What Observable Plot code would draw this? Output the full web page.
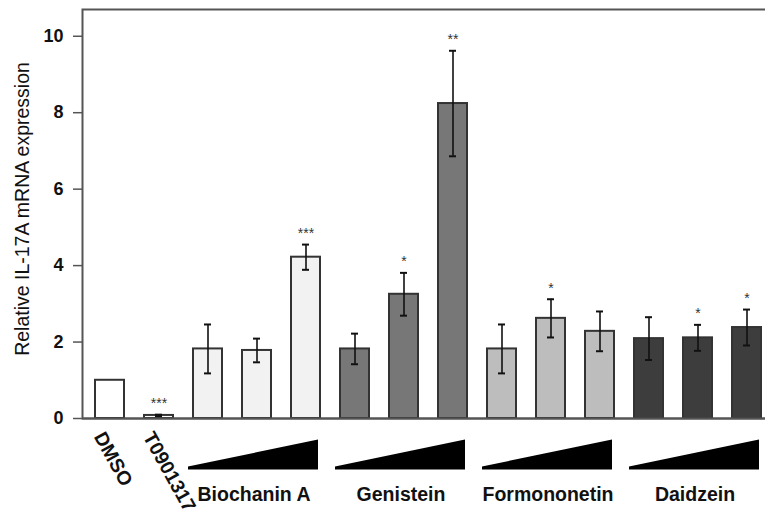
<!DOCTYPE html>
<html>
<head>
<meta charset="utf-8">
<script src="https://cdn.jsdelivr.net/npm/d3@7"></script>
<script src="https://cdn.jsdelivr.net/npm/@observablehq/plot@0.6"></script>
<style>
  html, body { margin: 0; padding: 0; background: #fff; overflow: hidden; }
  #chart { width: 765px; height: 512px; overflow: hidden; }
</style>
</head>
<body>
<div id="chart"></div>
<script>
// ---- data ----
const ids       = ["DMSO", "T0901317", "BA1", "BA2", "BA3", "GE1", "GE2", "GE3", "FO1", "FO2", "FO3", "DA1", "DA2", "DA3"];
const groups    = ["DMSO", "T0901317", "Biochanin A", "Biochanin A", "Biochanin A", "Genistein", "Genistein", "Genistein",
                   "Formononetin", "Formononetin", "Formononetin", "Daidzein", "Daidzein", "Daidzein"];
const means     = [1.00, 0.08, 1.82, 1.78, 4.22, 1.82, 3.25, 8.24, 1.82, 2.62, 2.28, 2.09, 2.11, 2.38];
const errors    = [0.00, 0.02, 0.64, 0.31, 0.33, 0.40, 0.56, 1.38, 0.64, 0.50, 0.52, 0.56, 0.34, 0.47];
const stars     = ["", "***", "", "", "***", "", "*", "**", "", "*", "", "", "*", "*"];
const controls  = ["DMSO", "T0901317"];
const compounds = ["Biochanin A", "Genistein", "Formononetin", "Daidzein"];
const yTicks    = [0, 2, 4, 6, 8, 10];
const yLabel    = "Relative IL-17A mRNA expression";

// colours per group
const groupFill = {
  "DMSO": "#ffffff", "T0901317": "#ffffff",
  "Biochanin A": "#f2f2f2", "Genistein": "#777777",
  "Formononetin": "#bdbdbd", "Daidzein": "#3d3d3d"
};

const table = ids.map((id, i) => ({id, group: groups[i], mean: means[i], err: errors[i], star: stars[i], fill: groupFill[groups[i]]}));
const withErr = table.filter(d => d.err > 0);
const withStar = table.filter(d => d.star);
const controlRows = table.filter(d => controls.includes(d.id));
const compoundRows = compounds.map(c => {
  const rows = table.filter(d => d.group === c);
  return {name: c, first: rows[0].id, mid: rows[1].id, last: rows[rows.length - 1].id};
});

const font = "Liberation Sans, Arial, Helvetica, sans-serif";

// dose wedges drawn under each compound, positioned by the x scale
function wedges(index, scales, values, dimensions) {
  const x = scales.x, bw = x.bandwidth();
  const base = dimensions.height - dimensions.marginBottom;
  const g = d3.create("svg:g");
  for (const c of compoundRows) {
    const x0 = x(c.first) - 5, x1 = x(c.last) + bw - 2;
    const yb = base + 51.5, yt = base + 21.5;
    g.append("polygon")
      .attr("points", `${x0},${yb} ${x0},${yb - 3} ${x1},${yt} ${x1},${yb}`)
      .attr("fill", "#000");
  }
  return g.node();
}

const chart = Plot.plot({
  width: 765,
  height: 512,
  marginLeft: 82,
  marginRight: -6,
  marginTop: 9,
  marginBottom: 94,
  style: {fontFamily: font, background: "#fff", color: "#111"},
  x: {domain: ids, range: [80, 777], paddingInner: 0.4, paddingOuter: 0.2, axis: null},
  y: {domain: [0, 10.7], axis: null},
  color: {type: "identity"},
  marks: [
    Plot.frame({stroke: "#555", strokeWidth: 2}),
    Plot.axisY({ticks: yTicks, tickSize: 9, tickPadding: 10, fontSize: 18, fontWeight: "bold", label: null, stroke: "#555", strokeWidth: 1.5}),
    Plot.barY(table, {x: "id", y: "mean", fill: "fill", stroke: "#333", strokeWidth: 2}),
    Plot.ruleX(withErr, {x: "id", y1: d => d.mean - d.err, y2: d => d.mean + d.err, stroke: "#111", strokeWidth: 1.6}),
    Plot.tickY(withErr, {x: "id", y: d => d.mean + d.err, insetLeft: 11, insetRight: 11, stroke: "#111", strokeWidth: 2}),
    Plot.tickY(withErr, {x: "id", y: d => d.mean - d.err, insetLeft: 11, insetRight: 11, stroke: "#111", strokeWidth: 2}),
    Plot.text(withStar, {x: "id", y: d => d.mean + d.err, text: "star", dy: -11, fontSize: 14, fill: "#333", lineAnchor: "middle"}),
    Plot.ruleY([0], {stroke: "#555", strokeWidth: 2}),
    Plot.text([yLabel], {frameAnchor: "left", dx: -60, dy: -5, rotate: -90, textAnchor: "middle", lineAnchor: "middle", fontSize: 19.5, fill: "#111"}),
    Plot.text(controlRows, {x: "id", text: "id", frameAnchor: "bottom", dy: 15, dx: -11, rotate: 61, textAnchor: "start", lineAnchor: "middle", fontSize: 19.5, fontWeight: "bold", fill: "#111"}),
    Plot.text(compoundRows, {x: "mid", text: "name", frameAnchor: "bottom", dy: 76, dx: -3, lineAnchor: "middle", fontSize: 19.5, fontWeight: "bold", fill: "#111"}),
    wedges
  ]
});
document.getElementById("chart").append(chart);
</script>
</body>
</html>
